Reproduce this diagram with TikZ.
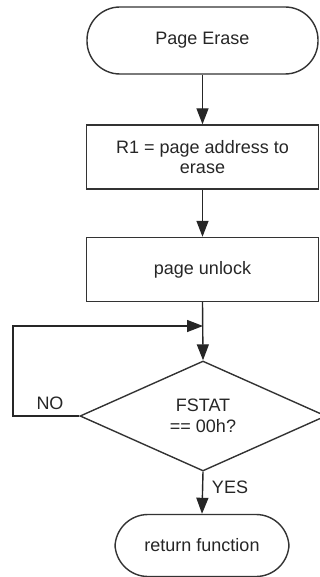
\documentclass[tikz,border=0pt]{standalone}
\usepackage{fontspec}
\setmainfont{Liberation Sans}
\usetikzlibrary{shapes.geometric,arrows.meta}
\begin{document}
\begin{tikzpicture}[x=1pt,y=-1pt,
  line width=1.4pt,
  every node/.style={font=\fontsize{18}{20.5}\selectfont, text=black!85},
  terminal/.style={draw=black!80, rounded corners=33pt, minimum height=67pt, align=center, inner sep=0pt},
  procbox/.style={draw=black!80, minimum width=232pt, minimum height=64pt, align=center, inner sep=0pt},
  decision/.style={draw=black!80, diamond, minimum width=246pt, minimum height=110pt, align=center, inner sep=0pt},
  flow/.style={draw=black!85, -{Triangle[length=16pt,width=12pt]}},
  plain/.style={draw=black!85}]
\useasboundingbox (0,0) rectangle (320,577);

\node[terminal, minimum width=231pt] (start) at (202.5,40.5) {Page Erase};
\node[procbox] (addr) at (202.5,157) {R1 = page address to\\erase};
\node[procbox] (unlock) at (202.5,269.5) {page unlock};
\node[decision] (check) at (203,416) {FSTAT\\== 00h?};
\node[terminal, minimum width=174pt, minimum height=62pt] (ret) at (202,545.5) {return function};

\coordinate (join) at (203,326);
\coordinate (loopbot) at (13,416);
\coordinate (looptop) at (13,326);

\draw[flow] (start.south) -- (addr.north);
\draw[flow] (addr.south) -- (unlock.north);
\draw[flow] (unlock.south) -- (check.north);
\draw[flow] (check.west) -- (loopbot) -- (looptop) -- (join);
\draw[flow] (check.south) -- (ret.north);

\node (no) at (50,403) {NO};
\node (yes) at (230,487) {YES};
\end{tikzpicture}
\end{document}
